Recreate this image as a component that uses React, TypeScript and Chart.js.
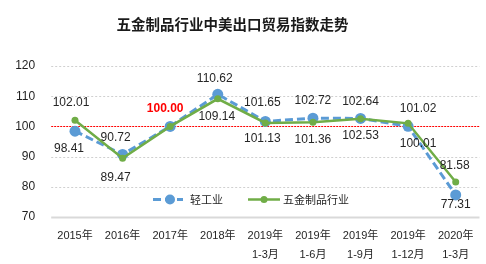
import React, { useEffect, useRef } from "react";
import { Chart, registerables } from "chart.js";

Chart.register(...registerables);

const title = "五金制品行业中美出口贸易指数走势";
const seriesNames = ["轻工业", "五金制品行业"];
const categories: string[][] = [
  ["2015年"],
  ["2016年"],
  ["2017年"],
  ["2018年"],
  ["2019年", "1-3月"],
  ["2019年", "1-6月"],
  ["2019年", "1-9月"],
  ["2019年", "1-12月"],
  ["2020年", "1-3月"],
];
const lightIndustry = [98.41, 90.72, 100.0, 110.62, 101.65, 102.72, 102.64, 100.01, 77.31];
const hardware = [102.01, 89.47, 100.0, 109.14, 101.13, 101.36, 102.53, 101.02, 81.58];
const yTicks = [70, 80, 90, 100, 110, 120];
const referenceValue = 100;

// label placement (style): a = above, b = below, n = none
const lightPlacement = ["b", "a", "n", "a", "a", "a", "a", "b", "b"];
const hardwarePlacement = ["a", "b", "a", "b", "b", "b", "b", "a", "a"];
// label nudges (style, pixels)
const lightNudgeX = [-6, -7, 0, -3, -3, 0, 0, 10, 0];
const hardwareNudgeX = [-4, -7, -5, -1, -3, 0, 0, 10, -1];
const lightGap = [17, 17, 17, 16, 19, 17, 17, 17, 10];
const hardwareGap = [18, 19, 18, 18, 16, 17, 17, 15, 16];

const BLUE = "#5B9BD5";
const GREEN = "#70AD47";
const FONT = "'Liberation Sans', 'Noto Sans CJK SC', sans-serif";
const CJK = "'Noto Sans CJK SC', 'Liberation Sans', sans-serif";

const decorPlugin = {
  id: "decor",
  beforeDatasetsDraw(chart: any) {
    const { ctx, chartArea, scales } = chart;
    const y = scales.y;
    ctx.save();
    yTicks.forEach((v) => {
      const py = Math.round(y.getPixelForValue(v)) + 0.5;
      ctx.beginPath();
      if (v === yTicks[0]) {
        ctx.setLineDash([]);
        ctx.strokeStyle = "#d9d9d9";
        ctx.lineWidth = 2;
      } else if (v === referenceValue) {
        ctx.setLineDash([2, 1]);
        ctx.strokeStyle = "#FF0000";
        ctx.lineWidth = 1;
      } else {
        ctx.setLineDash([2, 2]);
        ctx.strokeStyle = "#d0d0d0";
        ctx.lineWidth = 1;
      }
      ctx.moveTo(chartArea.left, py);
      ctx.lineTo(chartArea.right, py);
      ctx.stroke();
    });
    ctx.restore();
  },
  afterDatasetsDraw(chart: any) {
    const { ctx } = chart;
    ctx.save();
    ctx.textAlign = "center";
    ctx.textBaseline = "middle";
    const sets: [number[], string[], number[], number[], number][] = [
      [lightIndustry, lightPlacement, lightNudgeX, lightGap, 0],
      [hardware, hardwarePlacement, hardwareNudgeX, hardwareGap, 1],
    ];
    sets.forEach(([vals, place, nx, gap, di]) => {
      const meta = chart.getDatasetMeta(di);
      vals.forEach((v, i) => {
        if (place[i] === "n") return;
        const pt = meta.data[i];
        const dy = place[i] === "a" ? -gap[i] : gap[i];
        if (v === referenceValue) {
          ctx.fillStyle = "#FF0000";
          ctx.font = `bold 12px ${FONT}`;
        } else {
          ctx.fillStyle = "#262626";
          ctx.font = `12px ${FONT}`;
        }
        ctx.fillText(v.toFixed(2), pt.x + nx[i], pt.y + dy);
      });
    });

    // title
    ctx.fillStyle = "#1a1a1a";
    ctx.font = `bold 14.5px ${CJK}`;
    ctx.fillText(title, 232.5, 24);

    // legend
    const ly = 199.5;
    ctx.lineWidth = 3;
    ctx.strokeStyle = BLUE;
    ctx.setLineDash([8, 4]);
    ctx.beginPath();
    ctx.moveTo(153, ly);
    ctx.lineTo(183, ly);
    ctx.stroke();
    ctx.setLineDash([]);
    ctx.fillStyle = BLUE;
    ctx.beginPath();
    ctx.arc(170, ly, 5, 0, Math.PI * 2);
    ctx.fill();

    ctx.strokeStyle = GREEN;
    ctx.lineWidth = 2.5;
    ctx.beginPath();
    ctx.moveTo(248, ly);
    ctx.lineTo(280, ly);
    ctx.stroke();
    ctx.fillStyle = GREEN;
    ctx.beginPath();
    ctx.arc(264, ly, 3.5, 0, Math.PI * 2);
    ctx.fill();

    ctx.fillStyle = "#262626";
    ctx.font = `11px ${CJK}`;
    ctx.textAlign = "left";
    ctx.fillText(seriesNames[0], 190, ly);
    ctx.fillText(seriesNames[1], 283, ly);
    ctx.restore();
  },
};

export default function App() {
  const ref = useRef<HTMLCanvasElement | null>(null);
  useEffect(() => {
    if (!ref.current) return;
    const chart = new Chart(ref.current, {
      type: "line",
      data: {
        labels: categories,
        datasets: [
          {
            label: seriesNames[0],
            data: lightIndustry,
            borderColor: BLUE,
            backgroundColor: BLUE,
            borderWidth: 3,
            borderDash: [8, 4],
            pointRadius: 5.5,
            pointBorderWidth: 0,
            pointBackgroundColor: BLUE,
            tension: 0,
            order: 1,
          },
          {
            label: seriesNames[1],
            data: hardware,
            borderColor: GREEN,
            backgroundColor: GREEN,
            borderWidth: 2.5,
            pointRadius: 3.5,
            pointBorderWidth: 0,
            pointBackgroundColor: GREEN,
            tension: 0,
            order: 0,
          },
        ],
      },
      options: {
        animation: false,
        responsive: false,
        events: [],
        layout: { padding: { top: 66, right: 6.5, left: 0, bottom: 0 } },
        plugins: {
          legend: { display: false },
          title: { display: false },
          tooltip: { enabled: false },
        },
        scales: {
          x: {
            offset: true,
            grid: { display: false, drawTicks: false },
            border: { display: false },
            ticks: {
              color: "#262626",
              font: { family: FONT, size: 11, lineHeight: 1.72 },
              padding: 10,
              maxRotation: 0,
              autoSkip: false,
            },
            afterFit(scale: any) {
              scale.height = 47;
            },
          },
          y: {
            min: 70,
            max: 120,
            grid: { display: false, drawTicks: false },
            border: { display: false },
            ticks: {
              stepSize: 10,
              color: "#1f1f1f",
              font: { family: FONT, size: 12 },
              padding: 16,
            },
            afterFit(scale: any) {
              scale.width = 51.2;
            },
          },
        },
      },
      plugins: [decorPlugin],
    });
    return () => chart.destroy();
  }, []);
  return (
    <div style={{ position: "absolute", left: 0, top: 0, width: 486, height: 264, background: "#fff" }}>
      <canvas ref={ref} width={486} height={264} style={{ display: "block" }} />
    </div>
  );
}
